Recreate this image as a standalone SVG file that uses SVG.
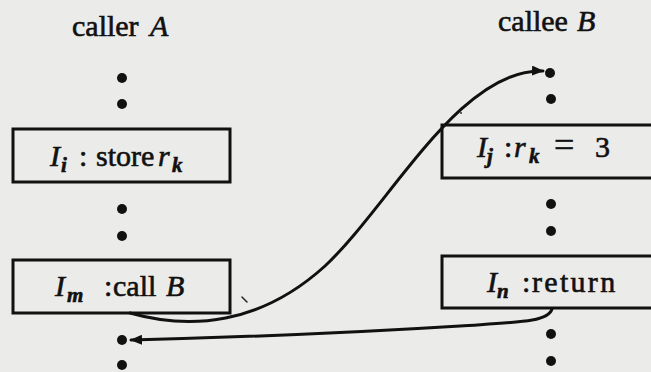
<svg xmlns="http://www.w3.org/2000/svg" width="651" height="372" viewBox="0 0 651 372">
<defs>
<style>
.bg{fill:#ebebea}
.box{fill:none;stroke:#111;stroke-width:3}
.dot{fill:#111}
.t{font-family:"Liberation Serif","Times New Roman",serif;font-size:30px;fill:#111;stroke:#111;stroke-width:0.6}
.it{font-style:italic}
.sub{font-style:italic;font-size:21px;font-weight:bold}
.edge{fill:none;stroke:#111;stroke-width:3;stroke-linecap:round}
</style>
<marker id="ah" markerUnits="userSpaceOnUse" markerWidth="12" markerHeight="10" refX="11" refY="5" orient="auto">
<path d="M0,0 L12,5 L0,10 z" fill="#111"/>
</marker>
</defs>
<rect class="bg" x="0" y="0" width="651" height="372"/>

<g id="title-a"><text class="t" y="36"><tspan x="72">caller</tspan><tspan class="it" x="150">A</tspan></text></g>
<g id="title-b"><text class="t" y="31"><tspan x="498">callee</tspan><tspan class="it" x="577">B</tspan></text></g>

<g id="dots-a">
<circle class="dot" cx="122" cy="78" r="5"/>
<circle class="dot" cx="122" cy="104" r="5"/>
<circle class="dot" cx="122" cy="209" r="5"/>
<circle class="dot" cx="122" cy="236" r="5"/>
<circle class="dot" cx="122" cy="340" r="5"/>
<circle class="dot" cx="122" cy="365" r="5"/>
</g>
<g id="dots-b">
<circle class="dot" cx="550" cy="73" r="5"/>
<circle class="dot" cx="551" cy="99" r="5"/>
<circle class="dot" cx="551" cy="204" r="5"/>
<circle class="dot" cx="551" cy="231" r="5"/>
<circle class="dot" cx="551" cy="334" r="5"/>
<circle class="dot" cx="551" cy="361" r="5"/>
</g>

<g id="node-store">
<rect class="box" x="13" y="129" width="217" height="53"/>
<text class="t" y="166"><tspan class="it" x="50">I</tspan><tspan class="sub" x="61" dy="6">i</tspan><tspan x="79" dy="-6">:</tspan><tspan x="96">store</tspan><tspan class="it" x="158">r</tspan><tspan class="sub" x="172" dy="6">k</tspan></text>
</g>

<g id="node-call">
<rect class="box" x="13" y="260" width="217" height="53"/>
<text class="t" y="296"><tspan class="it" x="55">I</tspan><tspan class="sub" x="67" dy="6">m</tspan><tspan x="104" dy="-6">:</tspan><tspan x="113">call</tspan><tspan class="it" x="166">B</tspan></text>
</g>

<g id="node-assign">
<rect class="box" x="442" y="125" width="220" height="53"/>
<text class="t" y="157"><tspan class="it" x="477">I</tspan><tspan class="sub" x="487" dy="6">j</tspan><tspan x="504" dy="-6">:</tspan><tspan class="it" x="514">r</tspan><tspan class="sub" x="529" dy="6">k</tspan><tspan x="554" dy="-6" font-size="36">=</tspan><tspan x="595">3</tspan></text>
</g>

<g id="node-return">
<rect class="box" x="442" y="256" width="220" height="52"/>
<text class="t" y="292"><tspan class="it" x="487">I</tspan><tspan class="sub" x="497" dy="6">n</tspan><tspan x="522" dy="-6">:</tspan><tspan x="532" letter-spacing="2.3">return</tspan></text>
</g>

<g id="connectors">
<path class="edge" d="M130,313 C190,330 260,325 325,266 C390,205 460,68 543,71" marker-end="url(#ah)"/>
<path class="edge" d="M552,309 C548,322 520,322 460,326 C380,331 250,337 131,340" marker-end="url(#ah)"/>
</g>

<g id="marks">
<line x1="242" y1="297" x2="247" y2="302" stroke="#222" stroke-width="1.5" stroke-linecap="round"/>
<circle cx="461" cy="113" r="1" fill="#333"/>
</g>
</svg>
